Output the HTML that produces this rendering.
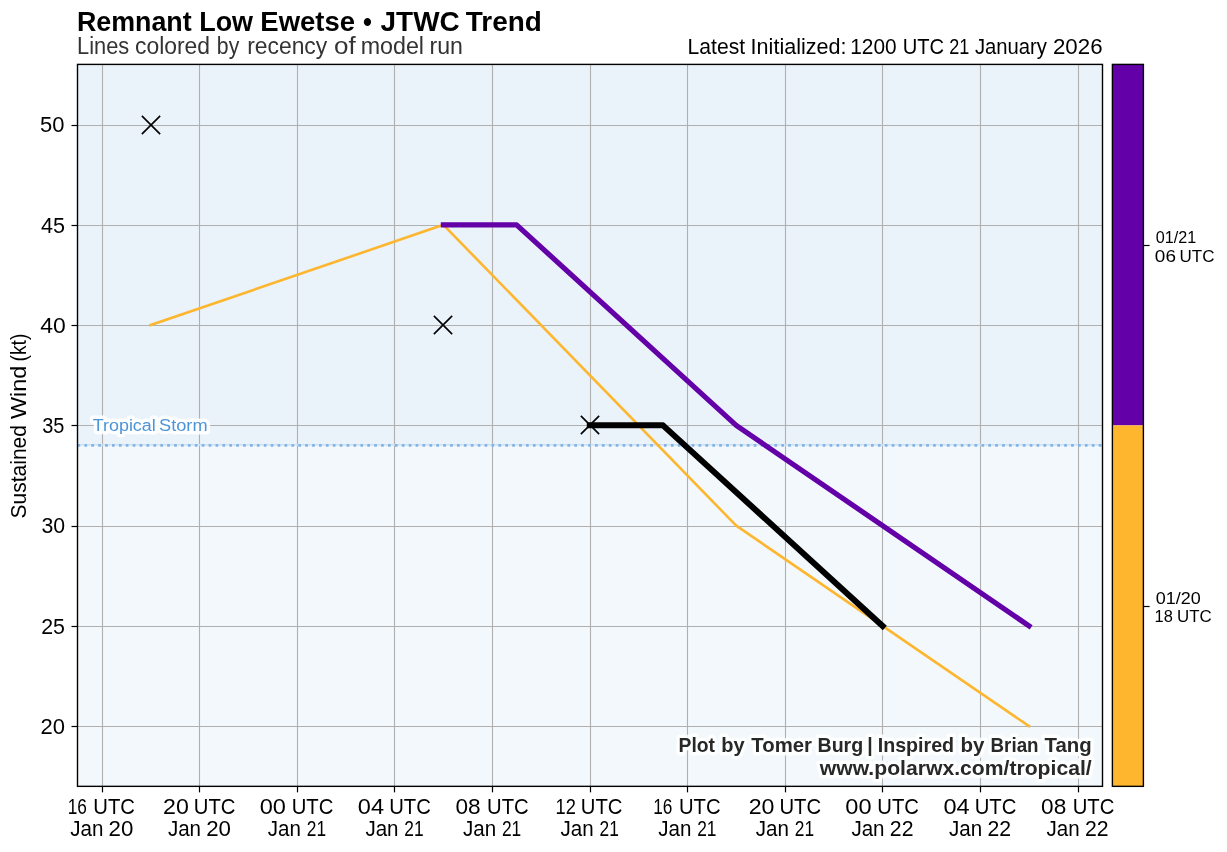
<!DOCTYPE html>
<html lang="en"><head><meta charset="utf-8"><title>Remnant Low Ewetse - JTWC Trend</title>
<style>html,body{margin:0;padding:0;background:#fff;}body{width:1227px;height:852px;overflow:hidden;}svg{display:block;}text{font-family:"Liberation Sans",sans-serif;}</style></head><body>
<svg width="1227" height="852" viewBox="0 0 1227 852">
<rect x="0" y="0" width="1227" height="852" fill="#ffffff"/>
<rect x="77.50" y="64.40" width="1025.00" height="721.95" fill="#f3f8fc"/>
<rect x="77.50" y="64.40" width="1025.00" height="381.03" fill="#eaf2fa"/>
<g stroke="#b0b0b0" stroke-width="1.1" fill="none">
<line x1="102.50" y1="64.40" x2="102.50" y2="786.35"/>
<line x1="199.50" y1="64.40" x2="199.50" y2="786.35"/>
<line x1="297.50" y1="64.40" x2="297.50" y2="786.35"/>
<line x1="394.50" y1="64.40" x2="394.50" y2="786.35"/>
<line x1="492.50" y1="64.40" x2="492.50" y2="786.35"/>
<line x1="590.50" y1="64.40" x2="590.50" y2="786.35"/>
<line x1="687.50" y1="64.40" x2="687.50" y2="786.35"/>
<line x1="785.50" y1="64.40" x2="785.50" y2="786.35"/>
<line x1="882.50" y1="64.40" x2="882.50" y2="786.35"/>
<line x1="980.50" y1="64.40" x2="980.50" y2="786.35"/>
<line x1="1078.50" y1="64.40" x2="1078.50" y2="786.35"/>
<line x1="77.50" y1="125.50" x2="1102.50" y2="125.50"/>
<line x1="77.50" y1="225.50" x2="1102.50" y2="225.50"/>
<line x1="77.50" y1="325.50" x2="1102.50" y2="325.50"/>
<line x1="77.50" y1="425.50" x2="1102.50" y2="425.50"/>
<line x1="77.50" y1="526.50" x2="1102.50" y2="526.50"/>
<line x1="77.50" y1="626.50" x2="1102.50" y2="626.50"/>
<line x1="77.50" y1="726.50" x2="1102.50" y2="726.50"/>
</g>
<line x1="77.50" y1="444.9" x2="1102.50" y2="444.9" stroke="#d0e2f4" stroke-width="1.8"/>
<line x1="77.50" y1="445.45" x2="1102.50" y2="445.45" stroke="#82b5e6" stroke-width="2.8" stroke-dasharray="2.7 4.2"/>
<text y="430.80" font-size="17.3" fill="#4d94d8" stroke="#ffffff" stroke-opacity="0.9" stroke-width="6.9" stroke-linejoin="round" paint-order="stroke"><tspan x="92.70" textLength="63.10" lengthAdjust="spacingAndGlyphs">Tropical</tspan> <tspan x="159.07" textLength="48.53" lengthAdjust="spacingAndGlyphs">Storm</tspan></text>
<polyline points="150.60,325.10 443.40,224.83 736.20,525.64 1029.00,726.18" fill="none" stroke="#fdb62e" stroke-width="2.6" stroke-linejoin="round" stroke-linecap="square"/>
<polyline points="443.40,224.83 516.60,224.83 736.20,425.37 1029.00,625.91" fill="none" stroke="#6300a7" stroke-width="5.2" stroke-linejoin="round" stroke-linecap="square"/>
<polyline points="589.80,425.37 663.00,425.37 882.60,625.91" fill="none" stroke="#000000" stroke-width="6.0" stroke-linejoin="round" stroke-linecap="square"/>
<path d="M141.85 115.85L160.15 134.15M141.85 134.15L160.15 115.85" stroke="#000" stroke-width="1.6" fill="none"/>
<path d="M433.85 315.85L452.15 334.15M433.85 334.15L452.15 315.85" stroke="#000" stroke-width="1.6" fill="none"/>
<path d="M580.85 415.85L599.15 434.15M580.85 434.15L599.15 415.85" stroke="#000" stroke-width="1.6" fill="none"/>
<rect x="77.50" y="64.40" width="1025.00" height="721.95" fill="none" stroke="#000" stroke-width="1.4"/>
<g stroke="#000" stroke-width="1.2">
<line x1="102.50" y1="786.35" x2="102.50" y2="792.35"/>
<line x1="199.50" y1="786.35" x2="199.50" y2="792.35"/>
<line x1="297.50" y1="786.35" x2="297.50" y2="792.35"/>
<line x1="394.50" y1="786.35" x2="394.50" y2="792.35"/>
<line x1="492.50" y1="786.35" x2="492.50" y2="792.35"/>
<line x1="590.50" y1="786.35" x2="590.50" y2="792.35"/>
<line x1="687.50" y1="786.35" x2="687.50" y2="792.35"/>
<line x1="785.50" y1="786.35" x2="785.50" y2="792.35"/>
<line x1="882.50" y1="786.35" x2="882.50" y2="792.35"/>
<line x1="980.50" y1="786.35" x2="980.50" y2="792.35"/>
<line x1="1078.50" y1="786.35" x2="1078.50" y2="792.35"/>
<line x1="71.50" y1="125.50" x2="77.50" y2="125.50"/>
<line x1="71.50" y1="225.50" x2="77.50" y2="225.50"/>
<line x1="71.50" y1="325.50" x2="77.50" y2="325.50"/>
<line x1="71.50" y1="425.50" x2="77.50" y2="425.50"/>
<line x1="71.50" y1="526.50" x2="77.50" y2="526.50"/>
<line x1="71.50" y1="626.50" x2="77.50" y2="626.50"/>
<line x1="71.50" y1="726.50" x2="77.50" y2="726.50"/>
</g>
<text y="30.80" font-size="26.8" font-weight="bold" fill="#000"><tspan x="77.01" textLength="114.62" lengthAdjust="spacingAndGlyphs">Remnant</tspan> <tspan x="199.20" textLength="53.85" lengthAdjust="spacingAndGlyphs">Low</tspan> <tspan x="260.36" textLength="94.57" lengthAdjust="spacingAndGlyphs">Ewetse</tspan> <tspan x="363.09" textLength="8.93" lengthAdjust="spacingAndGlyphs">•</tspan> <tspan x="380.58" textLength="79.09" lengthAdjust="spacingAndGlyphs">JTWC</tspan> <tspan x="465.79" textLength="75.95" lengthAdjust="spacingAndGlyphs">Trend</tspan></text>
<text y="54.00" font-size="23.3" fill="#333333"><tspan x="77.11" textLength="52.18" lengthAdjust="spacingAndGlyphs">Lines</tspan> <tspan x="135.03" textLength="75.05" lengthAdjust="spacingAndGlyphs">colored</tspan> <tspan x="216.83" textLength="22.41" lengthAdjust="spacingAndGlyphs">by</tspan> <tspan x="247.18" textLength="80.06" lengthAdjust="spacingAndGlyphs">recency</tspan> <tspan x="334.11" textLength="21.65" lengthAdjust="spacingAndGlyphs">of</tspan> <tspan x="360.65" textLength="63.40" lengthAdjust="spacingAndGlyphs">model</tspan> <tspan x="429.46" textLength="33.44" lengthAdjust="spacingAndGlyphs">run</tspan></text>
<text y="53.90" font-size="21.4" fill="#000"><tspan x="687.57" textLength="57.49" lengthAdjust="spacingAndGlyphs">Latest</tspan> <tspan x="750.61" textLength="95.96" lengthAdjust="spacingAndGlyphs">Initialized:</tspan> <tspan x="850.21" textLength="46.40" lengthAdjust="spacingAndGlyphs">1200</tspan> <tspan x="902.74" textLength="41.42" lengthAdjust="spacingAndGlyphs">UTC</tspan> <tspan x="949.19" textLength="20.09" lengthAdjust="spacingAndGlyphs">21</tspan> <tspan x="974.88" textLength="72.06" lengthAdjust="spacingAndGlyphs">January</tspan> <tspan x="1052.98" textLength="49.60" lengthAdjust="spacingAndGlyphs">2026</tspan></text>
<text y="131.80" font-size="21.7" fill="#000"><tspan x="40.02" textLength="24.44" lengthAdjust="spacingAndGlyphs">50</tspan></text>
<text y="232.80" font-size="21.7" fill="#000"><tspan x="41.10" textLength="24.00" lengthAdjust="spacingAndGlyphs">45</tspan></text>
<text y="332.70" font-size="21.7" fill="#000"><tspan x="40.17" textLength="25.52" lengthAdjust="spacingAndGlyphs">40</tspan></text>
<text y="432.80" font-size="21.7" fill="#000"><tspan x="42.24" textLength="22.20" lengthAdjust="spacingAndGlyphs">35</tspan></text>
<text y="532.70" font-size="21.7" fill="#000"><tspan x="41.39" textLength="23.64" lengthAdjust="spacingAndGlyphs">30</tspan></text>
<text y="633.80" font-size="21.7" fill="#000"><tspan x="41.22" textLength="23.77" lengthAdjust="spacingAndGlyphs">25</tspan></text>
<text y="733.80" font-size="21.7" fill="#000"><tspan x="40.49" textLength="24.47" lengthAdjust="spacingAndGlyphs">20</tspan></text>
<text y="813.60" font-size="21.7" fill="#000"><tspan x="67.69" textLength="19.17" lengthAdjust="spacingAndGlyphs">16</tspan> <tspan x="93.34" textLength="41.64" lengthAdjust="spacingAndGlyphs">UTC</tspan></text>
<text y="835.70" font-size="21.7" fill="#000"><tspan x="70.28" textLength="33.16" lengthAdjust="spacingAndGlyphs">Jan</tspan> <tspan x="108.58" textLength="24.79" lengthAdjust="spacingAndGlyphs">20</tspan></text>
<text y="813.60" font-size="21.7" fill="#000"><tspan x="163.13" textLength="25.77" lengthAdjust="spacingAndGlyphs">20</tspan> <tspan x="193.84" textLength="41.64" lengthAdjust="spacingAndGlyphs">UTC</tspan></text>
<text y="835.70" font-size="21.7" fill="#000"><tspan x="167.88" textLength="33.16" lengthAdjust="spacingAndGlyphs">Jan</tspan> <tspan x="206.18" textLength="24.79" lengthAdjust="spacingAndGlyphs">20</tspan></text>
<text y="813.60" font-size="21.7" fill="#000"><tspan x="259.68" textLength="26.24" lengthAdjust="spacingAndGlyphs">00</tspan> <tspan x="291.74" textLength="41.64" lengthAdjust="spacingAndGlyphs">UTC</tspan></text>
<text y="835.70" font-size="21.7" fill="#000"><tspan x="267.78" textLength="33.16" lengthAdjust="spacingAndGlyphs">Jan</tspan> <tspan x="306.73" textLength="19.32" lengthAdjust="spacingAndGlyphs">21</tspan></text>
<text y="813.60" font-size="21.7" fill="#000"><tspan x="357.88" textLength="26.21" lengthAdjust="spacingAndGlyphs">04</tspan> <tspan x="389.14" textLength="41.64" lengthAdjust="spacingAndGlyphs">UTC</tspan></text>
<text y="835.70" font-size="21.7" fill="#000"><tspan x="365.38" textLength="33.16" lengthAdjust="spacingAndGlyphs">Jan</tspan> <tspan x="404.33" textLength="19.32" lengthAdjust="spacingAndGlyphs">21</tspan></text>
<text y="813.60" font-size="21.7" fill="#000"><tspan x="455.52" textLength="25.17" lengthAdjust="spacingAndGlyphs">08</tspan> <tspan x="487.04" textLength="41.64" lengthAdjust="spacingAndGlyphs">UTC</tspan></text>
<text y="835.70" font-size="21.7" fill="#000"><tspan x="462.98" textLength="33.16" lengthAdjust="spacingAndGlyphs">Jan</tspan> <tspan x="501.93" textLength="19.32" lengthAdjust="spacingAndGlyphs">21</tspan></text>
<text y="813.60" font-size="21.7" fill="#000"><tspan x="555.61" textLength="20.31" lengthAdjust="spacingAndGlyphs">12</tspan> <tspan x="580.84" textLength="41.64" lengthAdjust="spacingAndGlyphs">UTC</tspan></text>
<text y="835.70" font-size="21.7" fill="#000"><tspan x="560.58" textLength="33.16" lengthAdjust="spacingAndGlyphs">Jan</tspan> <tspan x="599.53" textLength="19.32" lengthAdjust="spacingAndGlyphs">21</tspan></text>
<text y="813.60" font-size="21.7" fill="#000"><tspan x="653.29" textLength="19.17" lengthAdjust="spacingAndGlyphs">16</tspan> <tspan x="678.94" textLength="41.64" lengthAdjust="spacingAndGlyphs">UTC</tspan></text>
<text y="835.70" font-size="21.7" fill="#000"><tspan x="658.18" textLength="33.16" lengthAdjust="spacingAndGlyphs">Jan</tspan> <tspan x="697.13" textLength="19.32" lengthAdjust="spacingAndGlyphs">21</tspan></text>
<text y="813.60" font-size="21.7" fill="#000"><tspan x="748.73" textLength="25.77" lengthAdjust="spacingAndGlyphs">20</tspan> <tspan x="779.44" textLength="41.64" lengthAdjust="spacingAndGlyphs">UTC</tspan></text>
<text y="835.70" font-size="21.7" fill="#000"><tspan x="755.78" textLength="33.16" lengthAdjust="spacingAndGlyphs">Jan</tspan> <tspan x="794.73" textLength="19.32" lengthAdjust="spacingAndGlyphs">21</tspan></text>
<text y="813.60" font-size="21.7" fill="#000"><tspan x="845.28" textLength="26.24" lengthAdjust="spacingAndGlyphs">00</tspan> <tspan x="877.34" textLength="41.64" lengthAdjust="spacingAndGlyphs">UTC</tspan></text>
<text y="835.70" font-size="21.7" fill="#000"><tspan x="851.38" textLength="33.16" lengthAdjust="spacingAndGlyphs">Jan</tspan> <tspan x="889.83" textLength="23.64" lengthAdjust="spacingAndGlyphs">22</tspan></text>
<text y="813.60" font-size="21.7" fill="#000"><tspan x="943.48" textLength="26.21" lengthAdjust="spacingAndGlyphs">04</tspan> <tspan x="974.74" textLength="41.64" lengthAdjust="spacingAndGlyphs">UTC</tspan></text>
<text y="835.70" font-size="21.7" fill="#000"><tspan x="948.98" textLength="33.16" lengthAdjust="spacingAndGlyphs">Jan</tspan> <tspan x="987.43" textLength="23.64" lengthAdjust="spacingAndGlyphs">22</tspan></text>
<text y="813.60" font-size="21.7" fill="#000"><tspan x="1041.12" textLength="25.17" lengthAdjust="spacingAndGlyphs">08</tspan> <tspan x="1072.64" textLength="41.64" lengthAdjust="spacingAndGlyphs">UTC</tspan></text>
<text y="835.70" font-size="21.7" fill="#000"><tspan x="1046.58" textLength="33.16" lengthAdjust="spacingAndGlyphs">Jan</tspan> <tspan x="1085.03" textLength="23.64" lengthAdjust="spacingAndGlyphs">22</tspan></text>
<text transform="translate(26.40,517.50) rotate(-90)" y="0" font-size="21.4" fill="#000"><tspan x="-0.95" textLength="93.41" lengthAdjust="spacingAndGlyphs">Sustained</tspan> <tspan x="98.50" textLength="53.21" lengthAdjust="spacingAndGlyphs">Wind</tspan> <tspan x="156.11" textLength="27.68" lengthAdjust="spacingAndGlyphs">(kt)</tspan></text>
<text y="751.70" font-size="20.4" font-weight="bold" fill="#282828" stroke="#ffffff" stroke-opacity="0.88" stroke-width="6.9" stroke-linejoin="round" paint-order="stroke"><tspan x="678.61" textLength="36.43" lengthAdjust="spacingAndGlyphs">Plot</tspan> <tspan x="721.18" textLength="23.33" lengthAdjust="spacingAndGlyphs">by</tspan> <tspan x="751.37" textLength="60.64" lengthAdjust="spacingAndGlyphs">Tomer</tspan> <tspan x="817.49" textLength="45.72" lengthAdjust="spacingAndGlyphs">Burg</tspan> <tspan x="867.22" textLength="5.45" lengthAdjust="spacingAndGlyphs">|</tspan> <tspan x="877.69" textLength="76.41" lengthAdjust="spacingAndGlyphs">Inspired</tspan> <tspan x="960.45" textLength="23.96" lengthAdjust="spacingAndGlyphs">by</tspan> <tspan x="990.54" textLength="48.02" lengthAdjust="spacingAndGlyphs">Brian</tspan> <tspan x="1044.47" textLength="47.19" lengthAdjust="spacingAndGlyphs">Tang</tspan></text>
<text y="774.80" font-size="20.4" font-weight="bold" fill="#282828" stroke="#ffffff" stroke-opacity="0.88" stroke-width="6.9" stroke-linejoin="round" paint-order="stroke"><tspan x="819.76" textLength="271.94" lengthAdjust="spacingAndGlyphs">www.polarwx.com/tropical/</tspan></text>
<text y="242.70" font-size="17.3" fill="#000"><tspan x="1155.87" textLength="40.52" lengthAdjust="spacingAndGlyphs">01/21</tspan></text>
<text y="261.60" font-size="17.3" fill="#000"><tspan x="1154.86" textLength="21.07" lengthAdjust="spacingAndGlyphs">06</tspan> <tspan x="1179.59" textLength="34.96" lengthAdjust="spacingAndGlyphs">UTC</tspan></text>
<text y="603.60" font-size="17.3" fill="#000"><tspan x="1155.80" textLength="45.01" lengthAdjust="spacingAndGlyphs">01/20</tspan></text>
<text y="621.90" font-size="17.3" fill="#000"><tspan x="1154.55" textLength="18.27" lengthAdjust="spacingAndGlyphs">18</tspan> <tspan x="1176.99" textLength="34.75" lengthAdjust="spacingAndGlyphs">UTC</tspan></text>
<rect x="1112.40" y="64.40" width="31.00" height="360.98" fill="#6300a7"/>
<rect x="1112.40" y="425.38" width="31.00" height="360.98" fill="#fdb62e"/>
<rect x="1112.40" y="64.40" width="31.00" height="721.95" fill="none" stroke="#000" stroke-width="1.4"/>
<line x1="1143.40" y1="245.50" x2="1149.60" y2="245.50" stroke="#000" stroke-width="1.2"/>
<line x1="1143.40" y1="606.50" x2="1149.60" y2="606.50" stroke="#000" stroke-width="1.2"/>
</svg></body></html>
